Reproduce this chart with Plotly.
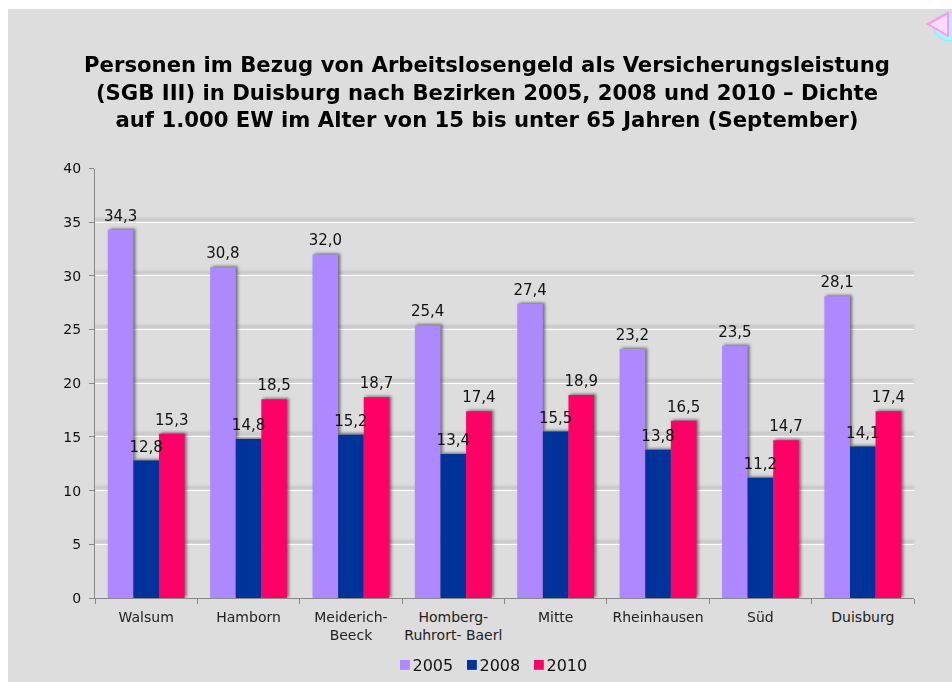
"""Arbeitslosengeld density per Duisburg district, grouped bars on a grey slide panel."""

import plotly.graph_objects as go

W, H = 952, 682

CATEGORIES = ["Walsum", "Hamborn", "Meiderich-<br>Beeck", "Homberg-<br>Ruhrort- Baerl",
              "Mitte", "Rheinhausen", "Süd", "Duisburg"]
VALUES_2005 = [34.3, 30.8, 32.0, 25.4, 27.4, 23.2, 23.5, 28.1]
VALUES_2008 = [12.8, 14.8, 15.2, 13.4, 15.5, 13.8, 11.2, 14.1]
VALUES_2010 = [15.3, 18.5, 18.7, 17.4, 18.9, 16.5, 14.7, 17.4]

COLORS = {"2005": "#AE88FF", "2008": "#003399", "2010": "#FF0066"}
FONT = "DejaVu Sans"
TITLE = ("Personen im Bezug von Arbeitslosengeld als Versicherungsleistung<br>"
         "(SGB III) in Duisburg nach Bezirken 2005, 2008 und 2010 – Dichte<br>"
         "auf 1.000 EW im Alter von 15 bis unter 65 Jahren (September)")


def px_x(x):
    return x / W


def px_y(y):
    return 1 - y / H


fig = go.Figure()
for name, values in [("2005", VALUES_2005), ("2008", VALUES_2008), ("2010", VALUES_2010)]:
    fig.add_trace(go.Bar(
        x=CATEGORIES, y=values, name=name, marker=dict(color=COLORS[name], line_width=0),
        texttemplate="%{y:.1f}", textposition="outside", cliponaxis=False, constraintext="none",
        textfont=dict(family=FONT, size=15, color="#111111"),
    ))

# grey panel and the little slide icon in the corner
shapes = [
    dict(type="rect", xref="paper", yref="paper", layer="below", line_width=0, fillcolor="#DDDDDD",
         x0=px_x(8), x1=1, y0=0, y1=px_y(9)),
    dict(type="circle", xref="paper", yref="paper", layer="below",
         line=dict(color="#7FF0FF", width=1), fillcolor="#A8F4FF",
         x0=px_x(934), x1=px_x(966), y0=px_y(41), y1=px_y(13)),
    dict(type="path", xref="paper", yref="paper", layer="below",
         line=dict(color="#FF99EE", width=2), fillcolor="#FFDDF8",
         path=f"M {px_x(928)} {px_y(24)} L {px_x(948)} {px_y(13)} L {px_x(948)} {px_y(36)} Z"),
]

fig.update_layout(
    width=W, height=H, margin=dict(l=0, r=0, t=0, b=0, autoexpand=False),
    paper_bgcolor="white", plot_bgcolor="rgba(0,0,0,0)",
    font=dict(family=FONT, color="#111111"),
    separators=",.",
    barmode="group", bargap=0.25, bargroupgap=0,
    shapes=shapes,
    title=dict(text=f"<b>{TITLE}</b>", x=487 / W, xanchor="center", y=px_y(72), yanchor="middle",
               font=dict(family=FONT, size=21.2, color="#000000")),
    xaxis=dict(
        domain=[px_x(95), px_x(914)], tickson="boundaries", ticks="outside", ticklen=5, tickangle=0,
        tickcolor="#888888", linecolor="#888888", linewidth=1, showgrid=False, ticklabelstandoff=6,
        tickfont=dict(size=14, color="#222222"),
    ),
    yaxis=dict(
        domain=[px_y(598), px_y(168.5)], range=[0, 40], dtick=5, ticks="outside", ticklen=5,
        tickcolor="#888888", linecolor="#888888", linewidth=1, gridcolor="white", gridwidth=1,
        zeroline=False, ticklabelstandoff=5, tickfont=dict(size=14, color="#111111"),
    ),
    legend=dict(orientation="h", x=473 / W, xanchor="center", y=px_y(665), yanchor="middle",
                entrywidth=22, font=dict(size=16, color="#111111"), bgcolor="rgba(0,0,0,0)"),
)

# plotly has no shadow option, so the soft shadows go on as svg filters after drawing;
# the bar labels are lifted above all bars, the legend swatches shrunk and nudged to their labels
SHADOWS = """
document.body.style.margin = '0';
document.body.style.overflow = 'hidden';
document.querySelectorAll('.bars .point path').forEach(function (p) {
    p.style.filter = 'drop-shadow(2px -1px 1.5px rgba(60,60,60,0.7))';
});
document.querySelectorAll('.gridlayer .y').forEach(function (g) {
    g.style.filter = 'drop-shadow(0px -3px 1.5px rgba(90,90,90,0.55))';
});
var barlayer = document.querySelector('.barlayer');
var labels = document.createElementNS('http://www.w3.org/2000/svg', 'g');
labels.setAttribute('transform', 'translate(0,-2)');
document.querySelectorAll('.bars .point .bartext').forEach(function (t) {
    labels.appendChild(t);
});
barlayer.appendChild(labels);
document.querySelectorAll('.legend .legendpoints').forEach(function (g) {
    g.setAttribute('transform', 'translate(16,0) scale(0.82)');
});
document.querySelectorAll('.legend .scrollbox').forEach(function (g) {
    g.removeAttribute('clip-path');
    g.style.clipPath = 'none';
});
"""

fig.write_html("out.html", post_script=SHADOWS, config={"displayModeBar": False})
